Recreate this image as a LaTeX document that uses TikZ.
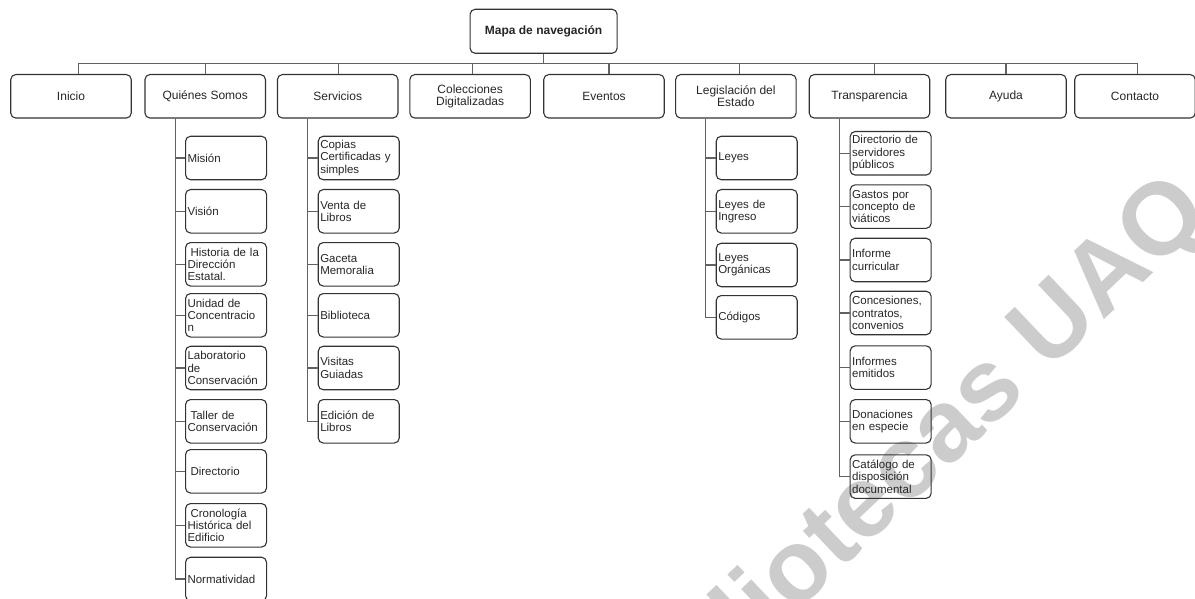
\documentclass[tikz,border=0pt]{standalone}
\usepackage{fontspec}
\setmainfont{Liberation Sans}
\begin{document}
\begin{tikzpicture}[x=1pt,y=-1pt,
  box/.style={draw=black!80, line width=1.1pt, rounded corners=5pt, fill=none,
    inner sep=1pt, align=center, text=black!85},
  rootbox/.style={box, minimum width=147pt, minimum height=44pt,
    font=\fontsize{12}{14}\selectfont\bfseries},
  topbox/.style={box, minimum width=120.5pt, minimum height=43.5pt,
    font=\fontsize{12}{12.6}\selectfont},
  leaf/.style={box, anchor=north west, minimum width=81pt, minimum height=43.5pt,
    text width=77pt, inner xsep=2pt, inner ysep=0pt, align=left,
    font=\fontsize{11.5}{12.4}\selectfont},
  link/.style={draw=black!62, line width=1.1pt}
]
\useasboundingbox (0,0) rectangle (1195,599);

% watermark
\node[rotate=43.5, text=black!20, font=\fontsize{102}{102}\selectfont\bfseries]
  (wm) at (905,472) {Bibliotecas UAQ};

% root and first level
\node[rootbox] (root) at (543.6,31.3) {Mapa de navegación};

\node[topbox] (inicio) at (71,96.3) {Inicio};
\node[topbox] (quienes) at (205.2,96.3) {Quiénes Somos};
\node[topbox] (servicios) at (337.7,96.3) {Servicios};
\node[topbox] (colecciones) at (470.1,96.3) {Colecciones\\Digitalizadas};
\node[topbox] (eventos) at (604,96.3) {Eventos};
\node[topbox] (legis) at (735.9,96.3) {Legislación del\\Estado};
\node[topbox] (transp) at (869.5,96.3) {Transparencia};
\node[topbox] (ayuda) at (1006,96.3) {Ayuda};
\node[topbox] (contacto) at (1135,96.3) {Contacto};

% bus from the root to every section
\foreach \n/\dx in {inicio/7.5,quienes/0,servicios/0.5,colecciones/2,eventos/5,
                    legis/4,transp/5,ayuda/0,contacto/2.7}
  \draw[link] (root.south) -- ++(0,10) -| ([xshift=\dx pt]\n.north);

% Quiénes Somos
\node[leaf] (q1) at (185,135.7) {Misión};
\node[leaf] (q2) at (185,189) {Visión};
\node[leaf] (q3) at (185,242) {\hspace*{3pt}Historia de la\\Dirección\\Estatal.};
\node[leaf] (q4) at (185,293) {Unidad de\\Concentracio\\n};
\node[leaf] (q5) at (185,345.7) {Laboratorio\\de\\Conservación};
\node[leaf] (q6) at (185,399) {\hspace*{3pt}Taller de\\Conservación};
\node[leaf] (q7) at (185,449) {\hspace*{3pt}Directorio};
\node[leaf] (q8) at (185,503) {\hspace*{3pt}Cronología\\Histórica del\\Edificio};
\node[leaf] (q9) at (185,556.7) {Normatividad};
\foreach \c in {q1,q2,q3,q4,q5,q6,q7,q8,q9}
  \draw[link] ([xshift=-30pt]quienes.south) |- (\c.west);

% Servicios
\node[leaf] (s1) at (317.7,135.7) {Copias\\Certificadas y\\simples};
\node[leaf] (s2) at (317.7,189) {Venta de\\Libros};
\node[leaf] (s3) at (317.7,242) {Gaceta\\Memoralia};
\node[leaf] (s4) at (317.7,293) {Biblioteca};
\node[leaf] (s5) at (317.7,345.7) {Visitas\\Guiadas};
\node[leaf] (s6) at (317.7,399) {Edición de\\Libros};
\foreach \c in {s1,s2,s3,s4,s5,s6}
  \draw[link] ([xshift=-30pt]servicios.south) |- (\c.west);

% Legislación del Estado
\node[leaf] (l1) at (715.7,135.7) {Leyes};
\node[leaf] (l2) at (715.7,189) {Leyes de\\Ingreso};
\node[leaf] (l3) at (715.7,242.7) {Leyes\\Orgánicas};
\node[leaf] (l4) at (715.7,295) {Códigos};
\foreach \c in {l1,l2,l3,l4}
  \draw[link] ([xshift=-30pt]legis.south) |- (\c.west);

% Transparencia
\node[leaf] (t1) at (849.6,131) {Directorio de\\servidores\\públicos};
\node[leaf] (t2) at (849.6,184.3) {Gastos por\\concepto de\\viáticos};
\node[leaf] (t3) at (849.6,237.7) {Informe\\curricular};
\node[leaf] (t4) at (849.6,290.7) {Concesiones,\\contratos,\\convenios};
\node[leaf] (t5) at (849.6,345.3) {Informes\\emitidos};
\node[leaf] (t6) at (849.6,399) {Donaciones\\en especie};
\node[leaf] (t7) at (849.6,454.3) {Catálogo de\\disposición\\documental};
\foreach \c in {t1,t2,t3,t4,t5,t6,t7}
  \draw[link] ([xshift=-30pt]transp.south) |- (\c.west);
\end{tikzpicture}
\end{document}
